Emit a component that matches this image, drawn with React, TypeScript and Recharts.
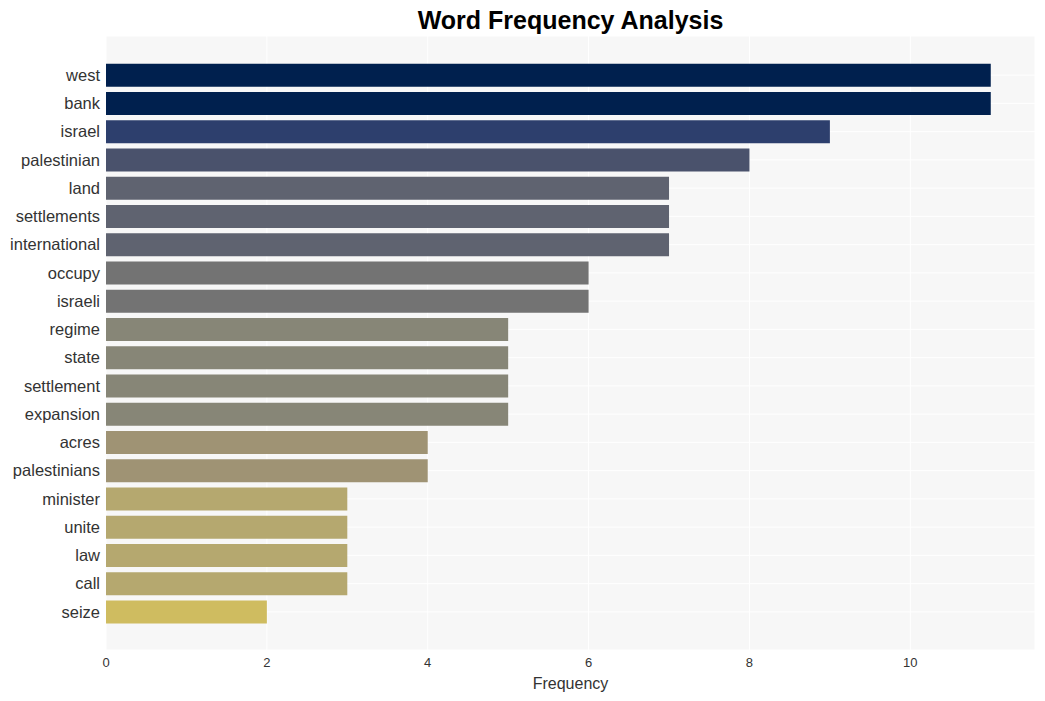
import React from "react"
import { Bar, BarChart, CartesianGrid, Cell, Label, XAxis, YAxis } from "recharts"

// words, top to bottom
const words = [
  "west", "bank", "israel", "palestinian", "land", "settlements", "international",
  "occupy", "israeli", "regime", "state", "settlement", "expansion", "acres",
  "palestinians", "minister", "unite", "law", "call", "seize",
]
const counts = [11, 11, 9, 8, 7, 7, 7, 6, 6, 5, 5, 5, 5, 4, 4, 3, 3, 3, 3, 2]
const barColors = [
  "#00204e", "#00204e", "#2d3f6d", "#4a526c", "#5f6370", "#5f6370", "#5f6370",
  "#737373", "#737373", "#878677", "#878677", "#878677", "#878677", "#9f9374",
  "#9f9374", "#b5a86f", "#b5a86f", "#b5a86f", "#b5a86f", "#cfbc60",
]
const xTicks = [0, 2, 4, 6, 8, 10]

const data = words.map((w, i) => ({ word: w, count: counts[i] }))

const FONT = '"Liberation Sans", Arial, sans-serif'

export default function App() {
  return (
    <div style={{ position: "absolute", left: 0, top: 0, width: 1045, height: 701, background: "#fff", fontFamily: FONT }}>
      <div
        style={{
          position: "absolute",
          left: 106,
          width: 929,
          top: 6,
          textAlign: "center",
          fontSize: 25,
          fontWeight: "bold",
          color: "#000",
        }}
      >
        Word Frequency Analysis
      </div>
      <BarChart
        width={1045}
        height={701}
        data={data}
        layout="vertical"
        margin={{ top: 36, right: 10, left: 6, bottom: 21 }}
        barCategoryGap="10%"
      >
        <CartesianGrid fill="#f7f7f7" stroke="#ffffff" strokeWidth={1} />
        <XAxis
          type="number"
          dataKey="count"
          domain={[0, 11.55]}
          ticks={xTicks}
          allowDataOverflow
          axisLine={false}
          tickLine={false}
          tickSize={4}
          tickMargin={4}
          height={30}
          tick={{ fill: "#333", fontSize: 13, fontFamily: FONT }}
        >
          <Label value="Frequency" position="bottom" offset={-2} style={{ fill: "#333", fontSize: 16, fontFamily: FONT }} />
        </XAxis>
        <YAxis
          type="category"
          dataKey="word"
          width={100}
          axisLine={false}
          tickLine={false}
          tickSize={4}
          tickMargin={2}
          interval={0}
          padding={{ top: 25, bottom: 24 }}
          tick={{ fill: "#333", fontSize: 16.5, fontFamily: FONT }}
        />
        <Bar dataKey="count" isAnimationActive={false}>
          {data.map((d, i) => (
            <Cell key={d.word} fill={barColors[i]} />
          ))}
        </Bar>
      </BarChart>
    </div>
  )
}
